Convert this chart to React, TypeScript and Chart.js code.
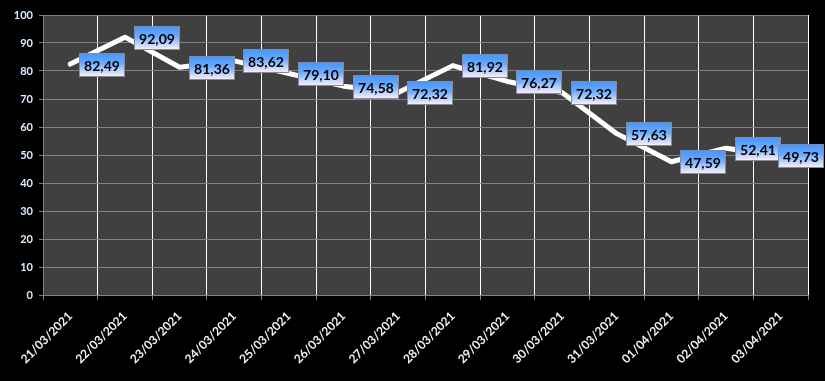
import React, { useEffect, useRef } from "react";
import { Chart, registerables } from "chart.js";

Chart.register(...registerables);

const categories = [
  "21/03/2021", "22/03/2021", "23/03/2021", "24/03/2021", "25/03/2021",
  "26/03/2021", "27/03/2021", "28/03/2021", "29/03/2021", "30/03/2021",
  "31/03/2021", "01/04/2021", "02/04/2021", "03/04/2021",
];
const values = [82.49, 92.09, 81.36, 83.62, 79.1, 74.58, 72.32, 81.92, 76.27, 72.32, 57.63, 47.59, 52.41, 49.73];
const yMin = 0;
const yMax = 100;
const yStep = 10;

const fmt = (v: number) => v.toFixed(2).replace(".", ",");

const bgPlugin = {
  id: "bg",
  beforeDraw(chart: any) {
    const { ctx, chartArea } = chart;
    ctx.save();
    ctx.fillStyle = "#000000";
    ctx.fillRect(0, 0, chart.width, chart.height);
    ctx.fillStyle = "#404040";
    ctx.fillRect(chartArea.left, chartArea.top, chartArea.right - chartArea.left, chartArea.bottom - chartArea.top);
    ctx.restore();
  },
};

const labelPlugin = {
  id: "boxLabels",
  afterDatasetsDraw(chart: any) {
    const { ctx } = chart;
    const meta = chart.getDatasetMeta(0);
    ctx.save();
    ctx.font = "bold 14px Lato";
    meta.data.forEach((pt: any, i: number) => {
      const text = fmt(values[i]);
      const tw = ctx.measureText(text).width;
      const w = Math.round(tw + 9);
      const h = 23;
      let left = Math.round(pt.x + 9);
      if (left + w > chart.width - 2) left = chart.width - 2 - w;
      const top = Math.round(pt.y - h / 2);
      const g = ctx.createLinearGradient(0, top, 0, top + h);
      g.addColorStop(0, "#4494ff");
      g.addColorStop(0.45, "#68aaff");
      g.addColorStop(0.75, "#b8d0ff");
      g.addColorStop(1, "#f3ecff");
      ctx.fillStyle = g;
      ctx.fillRect(left + 0.5, top + 0.5, w, h);
      ctx.strokeStyle = "#8a8a8a";
      ctx.lineWidth = 1;
      ctx.strokeRect(left + 0.5, top + 0.5, w, h);
      ctx.fillStyle = "#000000";
      ctx.textAlign = "center";
      ctx.textBaseline = "middle";
      ctx.fillText(text, left + 0.5 + w / 2, top + 0.5 + h / 2 + 1);
    });
    ctx.restore();
  },
};

export default function App() {
  const ref = useRef<HTMLCanvasElement | null>(null);
  useEffect(() => {
    document.body.style.margin = "0";
    document.body.style.background = "#000";
    const chart = new Chart(ref.current as HTMLCanvasElement, {
      type: "line",
      data: {
        labels: categories,
        datasets: [
          {
            data: values,
            borderColor: "#ffffff",
            borderWidth: 5,
            borderCapStyle: "round",
            borderJoinStyle: "round",
            pointRadius: 0,
            tension: 0,
          },
        ],
      },
      options: {
        animation: false,
        responsive: true,
        maintainAspectRatio: false,
        layout: { padding: { left: 0, top: 15, right: 17, bottom: 0 } },
        plugins: { legend: { display: false }, tooltip: { enabled: false } },
        scales: {
          x: {
            offset: true,
            grid: { offset: true, color: "#ffffff", tickColor: "#808080", tickLength: 5, lineWidth: 1 },
            border: { color: "#808080" },
            ticks: {
              color: "#f0f0f0",
              font: { family: "Lato", weight: "bold", size: 12 },
              minRotation: 45,
              maxRotation: 45,
              autoSkip: false,
              padding: 9,
            },
            afterFit(scale: any) {
              scale.height = 86;
            },
          },
          y: {
            min: yMin,
            max: yMax,
            grid: { color: "#808080", tickLength: 4 },
            border: { color: "#808080" },
            ticks: {
              stepSize: yStep,
              color: "#dcecff",
              font: { family: "Lato", weight: "bold", size: 11 },
              padding: 6,
            },
            afterFit(scale: any) {
              scale.width = 43;
            },
          },
        },
      },
      plugins: [bgPlugin, labelPlugin],
    } as any);
    return () => chart.destroy();
  }, []);
  return (
    <div style={{ width: 825, height: 381, background: "#000" }}>
      <canvas ref={ref} />
    </div>
  );
}
